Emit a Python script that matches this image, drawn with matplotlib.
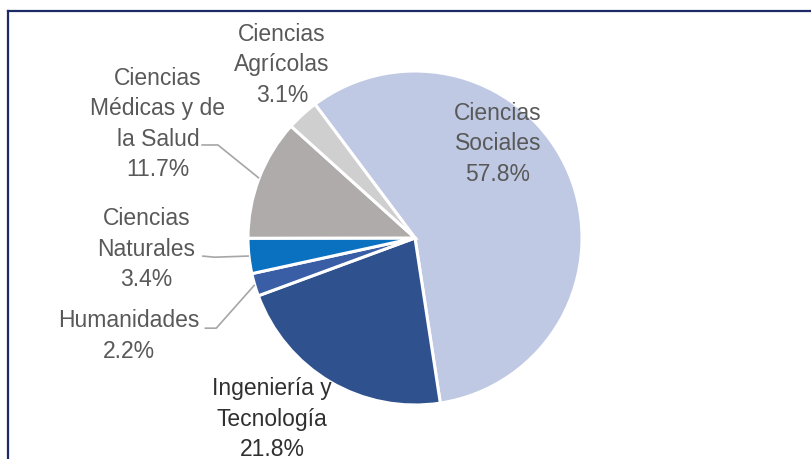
import numpy as np
import matplotlib
matplotlib.use("Agg")
import matplotlib.pyplot as plt
from matplotlib.lines import Line2D

# datos del gráfico (sentido horario desde Ciencias Sociales)
categories = ["Ciencias Sociales", "Ingeniería y Tecnología", "Humanidades",
              "Ciencias Naturales", "Ciencias Médicas y de la Salud", "Ciencias Agrícolas"]
shares = [57.8, 21.8, 2.2, 3.4, 11.7, 3.1]
label_lines = ["Ciencias\nSociales", "Ingeniería y\nTecnología", "Humanidades",
               "Ciencias\nNaturales", "Ciencias\nMédicas y de\nla Salud", "Ciencias\nAgrícolas"]
colors = ["#BFC9E3", "#2F528F", "#3A5EA6", "#0A70C0", "#AEABAA", "#CFCFCF"]

# posiciones de etiquetas (radio del pastel = 1)
label_pos = [(0.497, 0.563), (-0.856, -1.084), (-1.713, -0.587),
             (-1.608, -0.066), (-1.539, 0.683), (-0.796, 1.036)]
# líneas guía: (inicio junto al texto, codo) -> borde de la porción
leaders = {2: [(-1.26, -0.54), (-1.19, -0.54)],
           3: [(-1.275, -0.108), (-1.20, -0.115)],
           4: [(-1.28, 0.557), (-1.18, 0.557)]}

W, H = 812, 459
cx, cy, r = 415, 238, 167

fig = plt.figure(figsize=(W / 100, H / 100), dpi=100)
ax = fig.add_axes([0, 0, 1, 1])

wedges, _ = ax.pie(shares, colors=colors, startangle=126.8, counterclock=False,
                   radius=1, wedgeprops=dict(edgecolor="white", linewidth=2.2))

ax.set_xlim(-cx / r, (W - cx) / r)
ax.set_ylim(-(H - cy) / r, cy / r)
ax.set_aspect("auto")
ax.axis("off")

font = ["Liberation Sans", "DejaVu Sans"]
for i, (lab, val) in enumerate(zip(label_lines, shares)):
    x, y = label_pos[i]
    dark = categories[i].startswith("Ingenier")
    ax.text(x, y, f"{lab}\n{val:.1f}%", ha="center", va="center",
            fontsize=16.5, linespacing=1.42, family=font,
            color="#303030" if dark else "#595959")

for i, pts in leaders.items():
    w = wedges[i]
    mid = np.deg2rad((w.theta1 + w.theta2) / 2)
    xs = [p[0] for p in pts] + [np.cos(mid)]
    ys = [p[1] for p in pts] + [np.sin(mid)]
    ax.plot(xs, ys, color="#A6A6A6", lw=1.2, solid_capstyle="butt")

# marco superior e izquierdo
navy = "#1C2B66"
fig.add_artist(Line2D([8 / W, 1], [1 - 11 / H, 1 - 11 / H], color=navy, lw=1.6,
                      transform=fig.transFigure))
fig.add_artist(Line2D([8 / W, 8 / W], [0, 1 - 11 / H], color=navy, lw=1.6,
                      transform=fig.transFigure))

fig.savefig("out.png", dpi=100, facecolor="white")
